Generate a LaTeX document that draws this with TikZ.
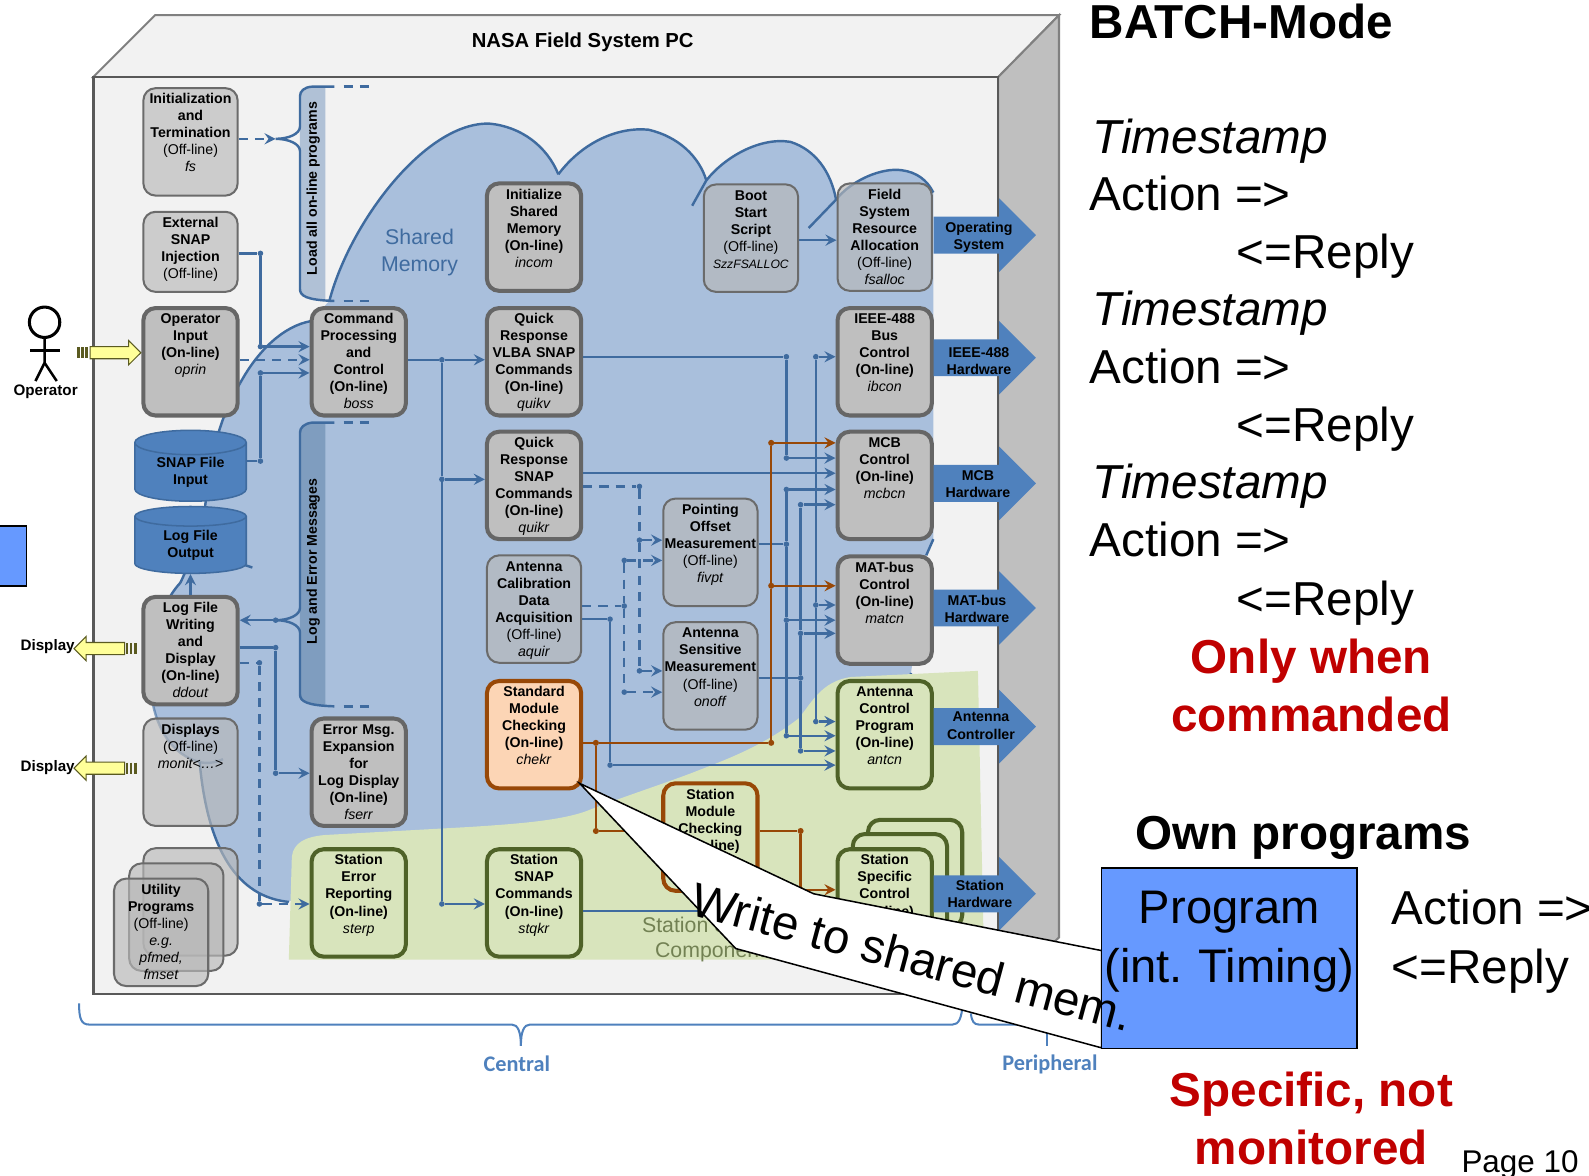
\documentclass[tikz,border=0pt]{standalone}
\usepackage{fontspec}
\setmainfont{Liberation Sans}
\newfontfamily\bracefont{Carlito}
\usepackage{tikz}
\usetikzlibrary{arrows.meta,shapes.geometric,shapes.arrows}
\definecolor{wallc}{HTML}{F2F2F2}
\definecolor{sidec}{HTML}{BFBFBF}
\definecolor{memc}{HTML}{A9BFDC}
\definecolor{panelc}{HTML}{B0C1D6}
\definecolor{paneld}{HTML}{7F9DBF}
\definecolor{wirec}{HTML}{3F6B9F}
\definecolor{greenc}{HTML}{D8E4BC}
\definecolor{greenl}{HTML}{4F6228}
\definecolor{orangel}{HTML}{984807}
\definecolor{orangef}{HTML}{FCD5B5}
\definecolor{blockc}{HTML}{4F81BD}
\definecolor{progc}{HTML}{6699FF}
\definecolor{yellowc}{HTML}{FFFF99}
\definecolor{yellowl}{HTML}{5A5A20}
\definecolor{redc}{HTML}{C00000}
\begin{document}
\begin{tikzpicture}[x=1pt,y=-1pt]
\tikzset{
  prog/.style={draw, rounded corners=12pt, anchor=north, inner sep=0pt, text width=93pt, align=center,
    text height=15.5pt, text depth=90.5pt, font=\fontsize{14}{16.8}\selectfont\bfseries},
  online/.style={prog, fill=sidec, draw=black!60, line width=4pt},
  offline/.style={prog, fill=black!28, fill opacity=.65, text opacity=1, draw=black!58, line width=2pt},
  stprog/.style={prog, fill=greenc, draw=greenl, line width=4pt},
  chprog/.style={prog, fill=orangef, draw=orangel, line width=4pt},
  wire/.style={draw=wirec, line width=2.4pt},
  arw/.style={wire, -{Stealth[length=11pt,width=11pt,inset=4pt]}},
  dwire/.style={wire, dash pattern=on 9pt off 7pt},
  darw/.style={arw, dash pattern=on 9pt off 7pt},
  orw/.style={draw=orangel, line width=2.4pt, -{Stealth[length=11pt,width=11pt,inset=4pt]}},
  owire/.style={draw=orangel, line width=2.4pt},
  dot/.style={circle, fill=wirec, inner sep=0pt, minimum size=5.5pt},
  odot/.style={circle, fill=orangel, inner sep=0pt, minimum size=6pt},
  filecyl/.style={cylinder, shape border rotate=90, aspect=.36, draw=wirec, line width=1.5pt, fill=blockc,
    minimum width=110pt, inner sep=0pt, align=center, font=\fontsize{14}{17}\selectfont\bfseries},
  hwarrow/.style={single arrow, fill=blockc, anchor=west, minimum height=101pt, minimum width=72pt,
    single arrow head extend=18pt, single arrow head indent=0pt, inner sep=0pt},
  hwtxt/.style={align=center, inner sep=0pt, font=\fontsize{14}{17}\selectfont\bfseries},
  yarrow/.style={single arrow, fill=yellowc, draw=yellowl, line width=1pt, minimum height=50pt, minimum width=24pt,
    single arrow head extend=6pt, single arrow head indent=0pt, inner sep=0pt, anchor=center},
  ystripe/.style={yellowl, line width=2.4pt},
  smalltxt/.style={font=\fontsize{15}{18}\selectfont\bfseries, inner sep=0pt},
  bigtxt/.style={font=\fontsize{47}{57}\selectfont, anchor=base west, inner sep=0pt},
  redtxt/.style={font=\fontsize{47}{57}\selectfont\bfseries, anchor=base, inner sep=0pt, text=redc},
  bluetxt/.style={font=\bracefont\bfseries\fontsize{22}{26}\selectfont, text=blockc, inner sep=0pt},
  brace/.style={draw=blockc, line width=2pt}
}
\useasboundingbox (0,0) rectangle (1568,1160);
% the PC
\draw[fill=wallc, draw=black!50, line width=2pt] (92,76) -- (153,15) -- (1045,15) -- (985,76) -- cycle;
\draw[fill=sidec, draw=black!50, line width=2pt] (985,76) -- (1045,15) -- (1045,925) -- (985,981) -- cycle;
\draw[fill=wallc, draw=black!65, line width=2.5pt] (92,76) rectangle (985,981);
\node[font=\fontsize{20}{24}\selectfont\bfseries] (Pc) at (575,42) {NASA Field System PC};
% shared memory
\fill[memc] (285,890) .. controls (235,885) and (205,840) .. (197,752)
  .. controls (170,745) and (155,720) .. (150,690)
  .. controls (148,640) and (155,600) .. (178,575)
  .. controls (190,550) and (200,520) .. (203,495)
  .. controls (206,450) and (220,405) .. (237,378)
  .. controls (255,345) and (280,322) .. (306,317)
  -- (325,297) .. controls (345,220) and (420,120) .. (483,122)
  .. controls (515,125) and (540,145) .. (551,172)
  .. controls (575,140) and (610,125) .. (640,128)
  .. controls (670,135) and (690,155) .. (697,178)
  .. controls (715,155) and (750,135) .. (780,140)
  .. controls (805,148) and (820,170) .. (825,197)
  .. controls (840,178) and (870,165) .. (890,168)
  .. controls (905,170) and (915,178) .. (921,190)
  -- (921,532) -- (914,548) -- (899,664) -- (895,680) -- (700,820) -- (300,880) -- cycle;
\draw[wire] (285,890) .. controls (235,885) and (205,840) .. (197,752);
\draw[wire, draw opacity=.6] (150,690) .. controls (155,720) and (170,745) .. (197,752) .. controls (205,754) and (215,752) .. (220,749);
\draw[wire] (150,690) .. controls (148,640) and (155,600) .. (178,575);
\draw[wire] (178,575) .. controls (190,550) and (200,520) .. (203,495)
  .. controls (206,450) and (220,405) .. (237,378);
\draw[wire] (237,378) .. controls (255,345) and (280,322) .. (306,317);
\draw[wire] (325,297) .. controls (345,220) and (420,120) .. (483,122)
  .. controls (515,125) and (540,145) .. (551,172);
\draw[wire] (551,172) .. controls (575,140) and (610,125) .. (640,128)
  .. controls (670,135) and (690,155) .. (697,178);
\draw[wire] (683,203) -- (697,178) .. controls (715,155) and (750,135) .. (780,140)
  .. controls (805,148) and (820,170) .. (825,197);
\draw[wire] (798,225) -- (825,197) .. controls (840,178) and (870,165) .. (890,168)
  .. controls (905,170) and (915,178) .. (921,190);
\draw[wire] (921,532) -- (914,548);
\draw[wire] (240,557) -- (249,560);
\draw[wire] (899,664) -- (895,680);
\node[font=\fontsize{21}{26}\selectfont, text=wirec, align=center] (Shm) at (414,249) {Shared\\Memory};
% station side
\fill[greenc] (285,947) -- (288,845) .. controls (290,832) and (300,826) .. (320,824) -- (464,816)
  .. controls (510,813) and (550,810) .. (577,801)
  .. controls (610,788) and (650,775) .. (682,763)
  .. controls (715,750) and (750,738) .. (788,709)
  .. controls (800,695) and (810,672) .. (840,668)
  -- (965,662) -- (971,947) -- cycle;
\node[font=\fontsize{21}{24}\selectfont, text=greenl!80, align=center] (Stc) at (706,927) {Station Specific\\Components};
% load and log panels
\fill[panelc] (321,85.5) -- (308,85.5) .. controls (300,86) and (296,90) .. (296,95) -- (296,285) .. controls (296,292) and (302,296) .. (321,297) -- cycle;
\fill[paneld] (321,417) -- (308,417) .. controls (300,418) and (296,422) .. (296,427) -- (296,685) .. controls (296,692) and (302,696) .. (321,697) -- cycle;
\coordinate (LoadTip) at (272,137);
\node[dot] (LogTip) at (272,612) {};
\draw[wire] (330,85.5) -- (308,85.5) .. controls (300,86) and (296,90) .. (296,95) -- (296,125) .. controls (296,132) and (285,137) .. (LoadTip)
  .. controls (285,137) and (296,142) .. (296,149) -- (296,285) .. controls (296,292) and (302,296) .. (330,297);
\draw[wire] (330,417) -- (308,417) .. controls (300,418) and (296,422) .. (296,427) -- (296,600) .. controls (296,607) and (285,612) .. (LogTip.center)
  .. controls (285,612) and (296,617) .. (296,624) -- (296,685) .. controls (296,692) and (302,696) .. (330,697);
\draw[dwire] (339,85.5) -- (367,85.5);
\draw[dwire] (339,297) -- (367,297);
\draw[dwire] (339,417) -- (367,417);
\draw[dwire] (339,697) -- (367,697);
\node[font=\fontsize{14}{17}\selectfont\bfseries, rotate=90] (Ltxt) at (309,186) {Load all on-line programs};
\node[font=\fontsize{14}{17}\selectfont\bfseries, rotate=90] (Etxt) at (309,554) {Log and Error Messages};
% junctions
\node[dot] (Ea) at (257,250) {};
\node[dot] (Eb) at (257,342) {};
\node[dot] (Sa) at (257,455) {};
\node[dot] (Sb) at (257,368) {};
\node[dot] (Ba) at (436,355) {};
\node[dot] (Bb) at (436,473) {};
\node[dot] (Bc) at (436,892) {};
\node[dot] (Va) at (776,352) {};
\node[dot] (Vb) at (776,452) {};
\node[dot] (Pa) at (776,483) {};
\node[dot] (Pb) at (776,537) {};
\node[dot] (Pc1) at (776,612) {};
\node[dot] (Pd) at (776,726) {};
\node[dot] (Oa) at (790,498) {};
\node[dot] (Ob) at (790,625) {};
\node[dot] (Oc) at (790,669) {};
\node[dot] (Od) at (790,741) {};
\node[dot] (Ia) at (805,352) {};
\node[dot] (Ib) at (805,597) {};
\node[dot] (Ic) at (805,712) {};
\node[dot] (Qa) at (631,480) {};
\node[dot] (Qb) at (631,533) {};
\node[dot] (Qc) at (631,662) {};
\node[dot] (Aa) at (616,598) {};
\node[dot] (Ab) at (616,553) {};
\node[dot] (Ac) at (616,683) {};
\node[dot] (Ad) at (602,611) {};
\node[dot] (Ae) at (602,755) {};
\node[dot] (Wa) at (272,639) {};
\node[dot] (Wb) at (272,763) {};
\node[dot] (Da) at (256,654) {};
\node[dot] (Db) at (256,892) {};
\node[odot] (Ca) at (588,733) {};
\node[odot] (Cb) at (761,733) {};
\node[odot] (Cc) at (761,578) {};
\node[odot] (Cd) at (761,437) {};
\node[odot] (Ce) at (588,820) {};
\node[odot] (Ma) at (790,820) {};
\node[odot] (Mb) at (790,878) {};
\coordinate (Vrow) at (0,352);
\coordinate (Qrow) at (0,467);
\coordinate (Oprow) at (0,355);
\coordinate (Strow) at (0,899);
\coordinate (Brow) at (0,237);
\coordinate (Asrow) at (0,137);
% programs
\node[offline] (Fs) at (188,86) {Initialization\\and\\Termination\\\textmd{(Off-line)}\\\textmd{\textit{fs}}};
\node[offline, text depth=63.5pt] (Ext) at (188,208) {External\\SNAP\\Injection\\\textmd{(Off-line)}};
\node[online] (Oprin) at (188,302) {Operator\\Input\\(On-line)\\\textmd{\textit{oprin}}};
\node[filecyl, minimum height=70pt] (SnapIn) at (188,466) {SNAP File\\Input};
\node[filecyl, minimum height=66pt] (LogOut) at (188,538) {Log File\\Output};
\node[online] (Ddout) at (188,587) {Log File\\Writing\\and\\Display\\(On-line)\\\textmd{\textit{ddout}}};
\node[offline] (Monit) at (188,708) {Displays\\\textmd{(Off-line)}\\\textmd{\textit{monit<\dots>}}};
\node[offline] (UtilA) at (188,836) {};
\node[offline] (UtilB) at (174,851) {};
\node[offline] (Util) at (159,866) {Utility\\Programs\\\textmd{(Off-line)}\\\textmd{\textit{e.g.}}\\\textmd{\textit{pfmed,}}\\\textmd{\textit{fmset}}};
\node[online] (Boss) at (354,302) {Command\\Processing\\and\\Control\\(On-line)\\\textmd{\textit{boss}}};
\node[online] (Fserr) at (354,707) {Error Msg.\\Expansion\\for\\Log Display\\(On-line)\\\textmd{\textit{fserr}}};
\node[stprog] (Sterp) at (354,836) {Station\\Error\\Reporting\\(On-line)\\\textmd{\textit{sterp}}};
\node[online] (Incom) at (527,179) {Initialize\\Shared\\Memory\\(On-line)\\\textmd{\textit{incom}}};
\node[online] (Quikv) at (527,302) {Quick\\Response\\VLBA SNAP\\Commands\\(On-line)\\\textmd{\textit{quikv}}};
\node[online] (Quikr) at (527,424) {Quick\\Response\\SNAP\\Commands\\(On-line)\\\textmd{\textit{quikr}}};
\node[offline] (Aquir) at (527,547) {Antenna\\Calibration\\Data\\Acquisition\\\textmd{(Off-line)}\\\textmd{\textit{aquir}}};
\node[chprog] (Chekr) at (527,670) {Standard\\Module\\Checking\\(On-line)\\\textmd{\textit{chekr}}};
\node[stprog] (Stqkr) at (527,836) {Station\\SNAP\\Commands\\(On-line)\\\textmd{\textit{stqkr}}};
\node[offline] (Fivpt) at (701,491) {Pointing\\Offset\\Measurement\\\textmd{(Off-line)}\\\textmd{\textit{fivpt}}};
\node[offline] (Onoff) at (701,613) {Antenna\\Sensitive\\Measurement\\\textmd{(Off-line)}\\\textmd{\textit{onoff}}};
\node[chprog, fill=greenc] (Stmod) at (701,771) {Station\\Module\\Checking\\(On-line)};
\node[offline] (Boot) at (741,181) {Boot\\Start\\Script\\\textmd{(Off-line)}\\\textmd{\fontsize{12}{16.8}\selectfont\textit{SzzFSALLOC}}};
\node[offline] (Fsalloc) at (873,180) {Field\\System\\Resource\\Allocation\\\textmd{(Off-line)}\\\textmd{\textit{fsalloc}}};
\node[online] (Ibcon) at (873,302) {IEEE-488\\Bus\\Control\\(On-line)\\\textmd{\textit{ibcon}}};
\node[online] (Mcbcn) at (873,424) {MCB\\Control\\(On-line)\\\textmd{\textit{mcbcn}}};
\node[online] (Matcn) at (873,547) {MAT-bus\\Control\\(On-line)\\\textmd{\textit{matcn}}};
\node[stprog] (Antcn) at (873,670) {Antenna\\Control\\Program\\(On-line)\\\textmd{\textit{antcn}}};
\node[stprog] (SpecA) at (903,807) {};
\node[stprog] (SpecB) at (888,821) {};
\node[stprog] (Spec) at (873,836) {Station\\Specific\\Control\\(On-line)};
% connectors
\draw[darw] (Fs.east |- Asrow) -- (LoadTip);
\draw[wire] (Ext.east |- Ea) -- (Ea) -- (Eb);
\draw[arw] (Eb) -- (Boss.west |- Eb);
\draw[darw] (Oprin.east |- Oprow) -- (Boss.west |- Oprow);
\draw[wire] (SnapIn.east |- Sa) -- (Sa) -- (Sb);
\draw[arw] (Sb) -- (Boss.west |- Sb);
\draw[wire] (Boss.east |- Ba) -- (Ba);
\draw[arw] (Ba) -- (Quikv.west |- Ba);
\draw[wire] (Ba) -- (Bb) -- (Bc);
\draw[arw] (Bb) -- (Quikr.west |- Bb);
\draw[arw] (Bc) -- (Stqkr.west |- Bc);
\draw[wire] (Quikv.east |- Vrow) -- (Va) -- (Vb);
\draw[arw] (Vb) -- (Mcbcn.west |- Vb);
\draw[arw] (Quikr.east |- Qrow) -- (Mcbcn.west |- Qrow);
\draw[wire] (Fivpt.east |- Pb) -- (Pb);
\draw[wire] (Pa) -- (Pb) -- (Pc1) -- (Pd);
\draw[arw] (Pa) -- (Mcbcn.west |- Pa);
\draw[arw] (Pc1) -- (Matcn.west |- Pc1);
\draw[arw] (Pd) -- (Antcn.west |- Pd);
\draw[wire] (Onoff.east |- Oc) -- (Oc);
\draw[wire] (Oa) -- (Ob) -- (Oc) -- (Od);
\draw[arw] (Oa) -- (Mcbcn.west |- Oa);
\draw[arw] (Ob) -- (Matcn.west |- Ob);
\draw[arw] (Od) -- (Antcn.west |- Od);
\draw[wire] (Ia) -- (Ib) -- (Ic);
\draw[arw] (Ia) -- (Ibcon.west |- Ia);
\draw[arw] (Ib) -- (Matcn.west |- Ib);
\draw[arw] (Ic) -- (Antcn.west |- Ic);
\draw[dwire] (Quikr.east |- Qa) -- (Qa) -- (Qb) -- (Qc);
\draw[darw] (Qb) -- (Fivpt.west |- Qb);
\draw[darw] (Qc) -- (Onoff.west |- Qc);
\draw[dwire] (Aquir.east |- Aa) -- (Aa);
\draw[dwire] (Ab) -- (Aa) -- (Ac);
\draw[darw] (Ab) -- (Fivpt.west |- Ab);
\draw[darw] (Ac) -- (Onoff.west |- Ac);
\draw[wire] (Aquir.east |- Ad) -- (Ad) -- (Ae);
\draw[arw] (Ae) -- (Antcn.west |- Ae);
\draw[arw] (LogTip) -- (Ddout.east |- LogTip);
\draw[wire] (Ddout.east |- Wa) -- (Wa) -- (Wb);
\draw[arw] (Wb) -- (Fserr.west |- Wb);
\draw[dwire] (Ddout.east |- Da) -- (Da) -- (Db);
\draw[darw] (Db) -- (Sterp.west |- Db);
\draw[arw] (Ddout.north) -- (LogOut.south);
\draw[arw] (Boot.east |- Brow) -- (Fsalloc.west |- Brow);
\draw[arw] (Stqkr.east |- Strow) -- (Spec.west |- Strow);
\draw[owire] (Chekr.east |- Ca) -- (Ca) -- (Cb) -- (Cc) -- (Cd);
\draw[orw] (Cd) -- (Mcbcn.west |- Cd);
\draw[orw] (Cc) -- (Matcn.west |- Cc);
\draw[owire] (Ca) -- (Ce);
\draw[owire] (Ce) -- (Stmod.west |- Ce);
\draw[owire] (Stmod.east |- Ma) -- (Ma) -- (Mb);
\draw[orw] (Mb) -- (Spec.west |- Mb);
% exits
\node[hwarrow] (Os) at (921,232) {\rule{0pt}{36pt}};
\node[hwarrow] (Ieee) at (921,353) {\rule{0pt}{36pt}};
\node[hwarrow] (Mcb) at (921,477) {\rule{0pt}{36pt}};
\node[hwarrow] (Mat) at (921,600) {\rule{0pt}{36pt}};
\node[hwarrow] (Cont) at (921,717) {\rule{0pt}{36pt}};
\node[hwarrow] (Sth) at (921,882) {\rule{0pt}{36pt}};
\node[hwtxt] (OsT) at (966,234) {Operating\\System};
\node[hwtxt] (IeeeT) at (966,356) {IEEE-488\\Hardware};
\node[hwtxt] (McbT) at (965,478) {MCB\\Hardware};
\node[hwtxt] (MatT) at (964,601) {MAT-bus\\Hardware};
\node[hwtxt] (ContT) at (968,716) {Antenna\\Controller};
\node[hwtxt] (SthT) at (967,882) {Station\\Hardware};
% operator
\node[draw, circle, line width=3pt, minimum size=30pt, inner sep=0pt] (Head) at (44,318) {};
\coordinate (Hip) at (44,358);
\coordinate (ArmL) at (30,346);
\coordinate (ArmR) at (59,346);
\coordinate (FootL) at (35,376);
\coordinate (FootR) at (56,376);
\draw[line width=2.5pt] (Head) -- (Hip) -- (FootL);
\draw[line width=2.5pt] (Hip) -- (FootR);
\draw[line width=2.5pt] (ArmL) -- (ArmR);
\node[smalltxt] (Op) at (45,387) {Operator};
\node[yarrow] (OpIn) at (111,348) {\rule{0pt}{11pt}};
\node[yarrow, shape border rotate=180] (DispA) at (101,640) {\rule{0pt}{11pt}};
\node[yarrow, shape border rotate=180] (DispB) at (101,758) {\rule{0pt}{11pt}};
\draw[ystripe] (77.5,342.5) -- (77.5,353.5);
\draw[ystripe] (81.5,342.5) -- (81.5,353.5);
\draw[ystripe] (85.5,342.5) -- (85.5,353.5);
\draw[ystripe] (125.5,634.5) -- (125.5,645.5);
\draw[ystripe] (129.5,634.5) -- (129.5,645.5);
\draw[ystripe] (133.5,634.5) -- (133.5,645.5);
\draw[ystripe] (125.5,752.5) -- (125.5,763.5);
\draw[ystripe] (129.5,752.5) -- (129.5,763.5);
\draw[ystripe] (133.5,752.5) -- (133.5,763.5);
\node[smalltxt] (DlA) at (47,638) {Display};
\node[smalltxt] (DlB) at (47,757) {Display};
% domain braces
\draw[brace] (78,990) .. controls (78,1005) and (80,1011) .. (88,1011) -- (505,1011) .. controls (511,1011) and (514,1018) .. (514,1032);
\draw[brace] (514,1032) .. controls (514,1018) and (517,1011) .. (523,1011) -- (940,1011) .. controls (946,1011) and (949,1005) .. (950,990);
\draw[brace] (958,1000) .. controls (959,1008) and (961,1011) .. (966,1011) -- (1100,1011);
\draw[brace] (1033,1011) -- (1033,1032);
\node[bluetxt] (Central) at (510,1050) {Central};
\node[bluetxt] (Periph) at (1036,1050) {Peripheral};
% slide part
\draw[fill=progc, draw=black, line width=1.5pt] (-2,519) rectangle (26,578);
\draw[fill=white, draw=black, line width=1.5pt] (572,773) -- (803,882) -- (1087,938) -- (1087,1034) -- (726,936) -- cycle;
\node[draw=black, fill=progc, line width=1.5pt, anchor=north, inner sep=0pt, text width=252pt, align=center,
  text height=55pt, text depth=123pt, font=\fontsize{46.5}{58}\selectfont] (Prog) at (1213,856) {Program\\\mbox{(int.\ Timing)}};
\node[font=\fontsize{47}{55}\selectfont, rotate=-15, inner sep=0pt] (Wnote) at (900,944) {Write to shared mem.};
\node[bigtxt, font=\fontsize{47}{57}\selectfont\bfseries] (Batch) at (1075,38) {BATCH-Mode};
\node[bigtxt, font=\fontsize{47}{57}\selectfont\itshape] (TsA) at (1078,151) {Timestamp};
\node[bigtxt] (AcA) at (1075,208) {Action =>};
\node[bigtxt] (ReA) at (1220,265) {<=Reply};
\node[bigtxt, font=\fontsize{47}{57}\selectfont\itshape] (TsB) at (1078,321) {Timestamp};
\node[bigtxt] (AcB) at (1075,378) {Action =>};
\node[bigtxt] (ReB) at (1220,436) {<=Reply};
\node[bigtxt, font=\fontsize{47}{57}\selectfont\itshape] (TsC) at (1078,492) {Timestamp};
\node[bigtxt] (AcC) at (1075,549) {Action =>};
\node[bigtxt] (ReC) at (1220,607) {<=Reply};
\node[redtxt] (RedA) at (1294,665) {Only when};
\node[redtxt] (RedB) at (1294,722) {commanded};
\node[bigtxt, font=\fontsize{47}{57}\selectfont\bfseries, anchor=base] (Own) at (1286,838) {Own programs};
\node[bigtxt] (AcD) at (1373,912) {Action =>};
\node[bigtxt] (ReD) at (1373,970) {<=Reply};
\node[redtxt] (RedC) at (1294,1092) {Specific, not};
\node[redtxt] (RedD) at (1294,1149) {monitored};
\node[font=\fontsize{31}{36}\selectfont, anchor=base west, inner sep=0pt] (Page) at (1442,1157) {Page 10};
\end{tikzpicture}
\end{document}
